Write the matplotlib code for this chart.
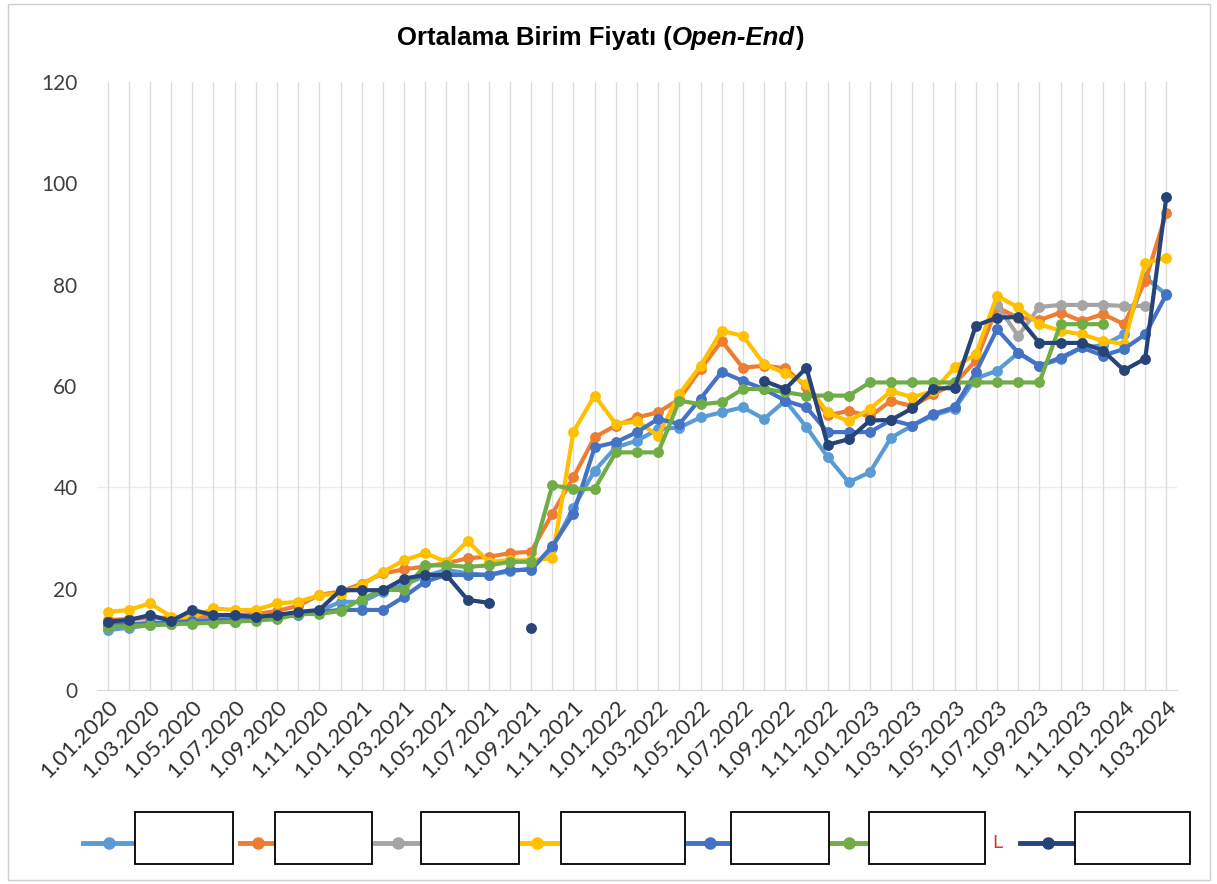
"""Ortalama Birim Fiyati (Open-End) line chart, Excel-style recreation."""

import matplotlib

matplotlib.use("Agg")
import matplotlib.pyplot as plt
import numpy as np
from matplotlib.patches import Rectangle
from matplotlib.lines import Line2D

nan = np.nan

# months 1.01.2020 .. 1.03.2024
months = [f"1.{m:02d}.{y}" for y in range(2020, 2025) for m in range(1, 13)][:51]

s1 = [11.8, 12.3, 12.8, 13.0, 13.2, 13.5, 13.4, 14.0, 14.2, 15.0, 15.6, 17.4, 17.4,
      19.4, 20.8, 22.5, 23.7, 23.0, 22.7, 23.4, 24.0, 28.0, 36.0, 43.3, 47.9, 49.2,
      51.5, 51.8, 53.8, 54.8, 55.8, 53.5, 57.1, 51.9, 46.0, 41.0, 43.0, 49.8, 52.2,
      54.2, 55.5, 61.5, 63.0, 66.5, 64.0, 65.3, 67.6, 68.0, 70.2, 81.5, 78.0]
s2 = [13.8, 14.0, 14.2, 14.3, 14.4, 14.6, 14.8, 15.0, 15.6, 16.6, 18.8, 19.4, 21.0,
      23.0, 23.8, 24.4, 25.0, 26.0, 26.3, 27.0, 27.3, 34.8, 42.0, 49.9, 52.2, 53.8,
      54.8, 57.4, 63.3, 68.9, 63.6, 64.0, 63.5, 59.8, 54.2, 55.1, 54.0, 57.1, 56.0,
      58.4, 60.5, 65.0, 75.5, 73.5, 73.0, 74.5, 72.8, 74.2, 72.2, 80.7, 94.2]
s3 = [nan] * 42 + [76.0, 69.9, 75.6, 76.0, 76.0, 76.0, 75.8, 75.8, nan]
s4 = [15.4, 15.8, 17.1, 14.5, 14.3, 16.1, 15.8, 15.8, 17.1, 17.4, 18.7, 19.0, 20.7,
      23.3, 25.6, 27.0, 25.3, 29.4, 25.3, 25.6, 25.6, 26.0, 51.0, 58.1, 52.5, 53.0,
      50.2, 58.4, 64.0, 70.9, 69.9, 64.3, 62.5, 60.4, 54.8, 53.0, 55.5, 59.0, 57.8,
      59.0, 63.7, 66.3, 77.8, 75.5, 72.2, 70.9, 70.2, 68.9, 68.3, 84.3, 85.3]
s5 = [12.8, 13.0, 13.2, 13.4, 13.6, 13.8, 14.0, 14.2, 14.4, 14.8, 15.4, 15.8, 15.8,
      15.8, 18.4, 21.4, 22.7, 22.7, 22.7, 23.7, 23.7, 28.4, 34.8, 47.9, 48.9, 50.9,
      53.5, 52.5, 57.5, 62.8, 61.0, 59.4, 57.1, 55.8, 50.9, 50.9, 50.9, 53.3, 52.2,
      54.5, 55.8, 62.7, 71.2, 66.6, 64.0, 65.6, 67.6, 66.0, 67.3, 70.2, 78.1]
s6 = [12.5, 12.6, 12.8, 13.0, 13.1, 13.3, 13.5, 13.7, 14.0, 15.0, 15.0, 15.6, 18.0,
      19.8, 19.7, 24.6, 24.6, 24.3, 24.6, 25.3, 25.3, 40.4, 39.7, 39.7, 46.9, 46.9,
      46.9, 57.1, 56.4, 56.8, 59.4, 59.4, 58.8, 58.1, 58.1, 58.1, 60.7, 60.7, 60.7,
      60.7, 60.7, 60.7, 60.7, 60.7, 60.7, 72.2, 72.2, 72.2, nan, nan, nan]
s7 = [13.5, 13.8, 14.8, 13.6, 15.8, 14.8, 14.8, 14.4, 14.8, 15.4, 15.8, 19.7, 19.7,
      19.7, 22.0, 22.7, 22.7, 17.8, 17.2, nan, 12.2] + [nan] * 10 + \
     [61.0, 59.4, 63.6, 48.4, 49.5, 53.2, 53.3, 55.6, 59.5, 59.6, 71.9, 73.5, 73.6,
      68.5, 68.5, 68.5, 67.0, 63.1, 65.4, 97.4]

series = [s1, s2, s3, s4, s5, s6, s7]
colors = ["#5B9BD5", "#ED7D31", "#A5A5A5", "#FFC000", "#4472C4", "#70AD47", "#264478"]
yticks = [0, 20, 40, 60, 80, 100, 120]

W, H = 1217, 884
fig = plt.figure(figsize=(W / 100, H / 100), dpi=100)
fig.patches.append(Rectangle((8 / W, 4 / H), 1202 / W, 876 / H, transform=fig.transFigure,
                             fill=False, edgecolor="#cfcfcf", lw=1))

ax = fig.add_axes([97 / W, 1 - 690 / H, 1080 / W, 608 / H])
x = np.arange(len(months))
for vals, c in zip(series, colors):
    ax.plot(x, vals, color=c, lw=3.0, marker="o", ms=6.8, mfc=c, mec=c, zorder=3)

ax.set_xlim(-0.5, len(months) - 0.5)
ax.set_ylim(0, 120)
ax.set_yticks(yticks)
ax.set_yticklabels([str(v) for v in yticks], fontsize=15, color="#404040",
                   fontfamily="Lato")
ax.set_xticks(x)
ax.set_xticklabels([m if i % 2 == 0 else "" for i, m in enumerate(months)],
                   rotation=45, ha="right", rotation_mode="anchor", fontsize=16,
                   color="#303030", fontfamily="Lato")
ax.tick_params(axis="both", length=0)
ax.tick_params(axis="y", pad=14)
ax.tick_params(axis="x", pad=5)
ax.grid(axis="x", color="#dcdcdc", lw=1, zorder=0)
ax.axhline(40, color="#ececec", lw=1, zorder=0)
for sp in ["top", "right", "left"]:
    ax.spines[sp].set_visible(False)
ax.spines["bottom"].set_color("#d9d9d9")

# title with italic part
t1 = fig.text(397 / W, 1 - 38 / H, "Ortalama Birim Fiyatı (", fontsize=18.5,
              fontweight="bold", fontfamily="Liberation Sans", va="center", ha="left")
t2 = ax.annotate("Open-End", xy=(1, 0), xycoords=t1, va="bottom", ha="left",
                 fontsize=18.5, fontweight="bold", fontstyle="italic",
                 fontfamily="Liberation Sans")
ax.annotate(")", xy=(1, 0), xycoords=t2, va="bottom", ha="left", fontsize=18.5,
            fontweight="bold", fontfamily="Liberation Sans")

# legend: redacted labels drawn as empty boxes
handles = [(83, 135), (240, 275), (375, 421), (512, 561), (688, 731), (829, 869), (1020, 1075)]
boxes = [(135, 233), (275, 372), (421, 519), (561, 685), (731, 829), (869, 985), (1075, 1190)]
ly = 1 - 843 / H
for (h0, h1), (b0, b1), c in zip(handles, boxes, colors):
    fig.lines.append(Line2D([h0 / W, h1 / W], [ly, ly], transform=fig.transFigure,
                            color=c, lw=3.5))
    fig.lines.append(Line2D([(h0 + h1) / 2 / W], [ly], transform=fig.transFigure,
                            color=c, marker="o", ms=8))
    fig.patches.append(Rectangle((b0 / W, 1 - 864 / H), (b1 - b0) / W, 52 / H,
                                 transform=fig.transFigure, facecolor="white",
                                 edgecolor="black", lw=1.3, zorder=5))
fig.text(992 / W, ly, "L", color="#e03020", fontsize=13, va="center", ha="left")

fig.savefig("out.png", dpi=100)
